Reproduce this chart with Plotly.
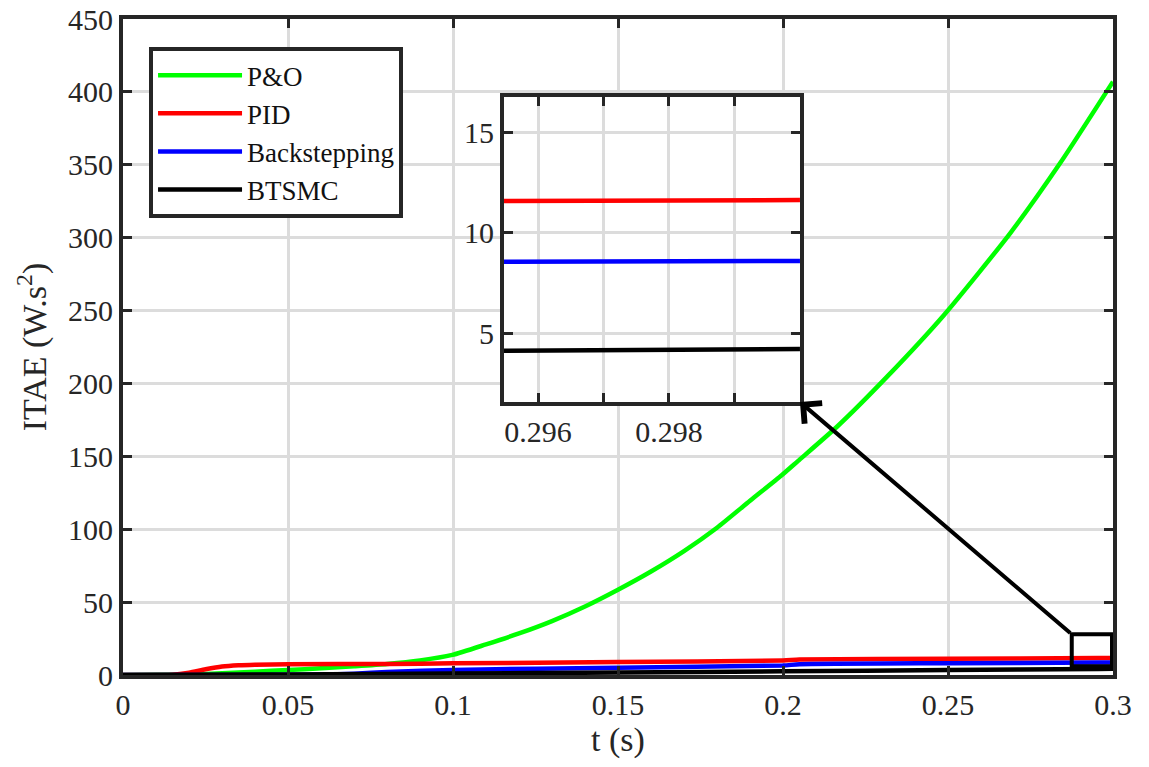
import plotly.graph_objects as go

# ---- data ----
t_po = [0, 0.01, 0.02, 0.03, 0.04, 0.05, 0.06, 0.07, 0.08, 0.09, 0.0998, 0.11, 0.12, 0.13, 0.14, 0.15,
        0.16, 0.17, 0.18, 0.19, 0.1996, 0.2045, 0.2166, 0.2317, 0.2488, 0.2690, 0.2841, 0.3]
y_po = [0, 0.1, 0.4, 1.2, 2.3, 3.4, 4.6, 6.0, 7.6, 10.0, 13.8, 21.0, 28.5, 37.0, 47.0, 58.5,
        71.0, 85.0, 101.0, 119.5, 137.0, 146.7, 170.8, 205.0, 247.0, 303.5, 351.5, 407.0]

t_pid = [0, 0.015, 0.02, 0.025, 0.03, 0.035, 0.04, 0.05, 0.08, 0.1, 0.15, 0.2, 0.205, 0.25, 0.2955, 0.3]
y_pid = [0, 0.2, 1.6, 3.9, 5.8, 6.7, 7.1, 7.4, 7.6, 8.0, 8.9, 10.0, 10.6, 11.1, 11.58, 11.63]

t_bs = [0, 0.05, 0.06, 0.07, 0.08, 0.1, 0.15, 0.2, 0.205, 0.25, 0.2955, 0.3]
y_bs = [0, 0.1, 0.3, 0.9, 2.0, 3.5, 5.0, 6.5, 7.4, 8.1, 8.53, 8.60]

t_bt = [0, 0.05, 0.1, 0.15, 0.2, 0.25, 0.2955, 0.3]
y_bt = [0, 0.4, 1.0, 1.7, 2.5, 3.4, 4.13, 4.22]

series_names = ["P&O", "PID", "Backstepping", "BTSMC"]
series_colors = ["#00ff00", "#ff0000", "#0000ff", "#000000"]

main_xticks = [0, 0.05, 0.1, 0.15, 0.2, 0.25, 0.3]
main_xtext = ["0", "0.05", "0.1", "0.15", "0.2", "0.25", "0.3"]
main_yticks = [0, 50, 100, 150, 200, 250, 300, 350, 400, 450]

inset_xticks = [0.296, 0.298]
inset_xtext = ["0.296", "0.298"]
inset_xminor_step = 0.001
inset_yticks = [5, 10, 15]

main_xrange = [0, 0.3]
main_yrange = [0, 450]
inset_xrange = [0.29548, 0.3]
inset_yrange = [1.58, 16.76]
zoom_box_x = [0.2875, 0.2997]
zoom_box_y = [6, 28]

FONT = "Liberation Serif"
FRAME = "#262626"
GRID = "#dcdcdc"

# ---- layout geometry ----
W, H = 1149, 767
ml, mr, mt, mb = 123, 36, 19, 92
inset_xdom = [0.3848, 0.6838]
inset_ydom = [0.4162, 0.881]

fig = go.Figure()
series = [(t_po, y_po), (t_pid, y_pid), (t_bs, y_bs), (t_bt, y_bt)]
for (tx, ty), name, col in zip(series, series_names, series_colors):
    fig.add_trace(go.Scatter(x=tx, y=ty, mode="lines", name=name,
                             line=dict(color=col, width=4.5, shape="spline", smoothing=0.6),
                             xaxis="x", yaxis="y"))
for (tx, ty), name, col in zip(series, series_names, series_colors):
    fig.add_trace(go.Scatter(x=tx, y=ty, mode="lines", name=name, showlegend=False,
                             line=dict(color=col, width=4.5), xaxis="x2", yaxis="y2"))

axis_common = dict(showline=True, linewidth=4, linecolor=FRAME, mirror="ticks",
                   ticks="inside", ticklen=9, tickwidth=3, tickcolor=FRAME,
                   showgrid=True, gridcolor=GRID, gridwidth=3, zeroline=False,
                   automargin=False,
                   tickfont=dict(family=FONT, size=30, color="#262626"))

fig.update_layout(
    width=W, height=H,
    margin=dict(l=ml, r=mr, t=mt, b=mb, autoexpand=False),
    paper_bgcolor="white", plot_bgcolor="white",
    font=dict(family=FONT, color="#262626"),
    showlegend=True,
    legend=dict(x=0.0263, y=0.957, xanchor="left", yanchor="top",
                bgcolor="white", bordercolor=FRAME, borderwidth=4,
                font=dict(family=FONT, size=27, color="#111111"),
                itemwidth=84, tracegroupgap=0),
    xaxis=dict(range=main_xrange, tickvals=main_xticks, ticktext=main_xtext,
               title=dict(text="t (s)", font=dict(family=FONT, size=34), standoff=4),
               domain=[0, 1], anchor="y", **axis_common),
    yaxis=dict(range=main_yrange, tickvals=main_yticks,
               title=dict(text="ITAE (W.s<sup>2</sup>)", font=dict(family=FONT, size=34), standoff=12),
               domain=[0, 1], anchor="x", **axis_common),
    xaxis2=dict(range=inset_xrange, tickvals=inset_xticks, ticktext=inset_xtext,
                minor=dict(dtick=inset_xminor_step, tick0=inset_xticks[0], ticks="inside",
                           ticklen=9, tickwidth=3, tickcolor=FRAME,
                           showgrid=True, gridcolor=GRID, gridwidth=3),
                domain=inset_xdom, anchor="y2", **axis_common),
    yaxis2=dict(range=inset_yrange, tickvals=inset_yticks,
                domain=inset_ydom, anchor="x2", **axis_common),
)

# white background for the inset (drawn in the inset subplot, below its grid)
fig.add_shape(type="rect", xref="x2 domain", yref="y2 domain", x0=0, x1=1, y0=0, y1=1,
              fillcolor="white", line=dict(width=0), layer="below")

# zoom box on main axes
fig.add_shape(type="rect", xref="x", yref="y", x0=zoom_box_x[0], x1=zoom_box_x[1],
              y0=zoom_box_y[0], y1=zoom_box_y[1], line=dict(color="black", width=4))

# arrow from zoom box corner to the inset bottom-right corner
head_x = main_xrange[0] + inset_xdom[1] * (main_xrange[1] - main_xrange[0])
head_y = main_yrange[0] + inset_ydom[0] * (main_yrange[1] - main_yrange[0])
fig.add_annotation(x=head_x, y=head_y, xref="x", yref="y",
                   ax=zoom_box_x[0], ay=zoom_box_y[1], axref="x", ayref="y",
                   showarrow=True, arrowhead=4, arrowsize=1.3, arrowwidth=4,
                   arrowcolor="black", text="")

fig.write_html("out.html")
